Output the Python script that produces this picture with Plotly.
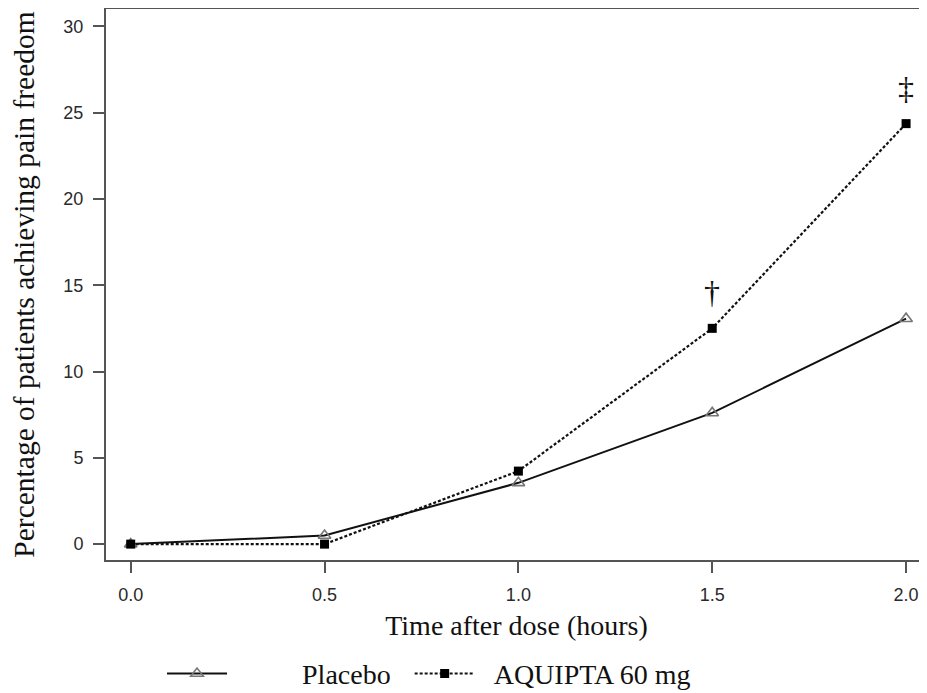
import plotly.graph_objects as go

time_hours = [0.0, 0.5, 1.0, 1.5, 2.0]
placebo = [0.0, 0.5, 3.55, 7.6, 13.06]
aquipta = [0.0, 0.0, 4.23, 12.5, 24.36]
x_ticks = [0.0, 0.5, 1.0, 1.5, 2.0]
y_ticks = [0, 5, 10, 15, 20, 25, 30]
sig_x = [1.5, 2.0]
sig_y = [14.6, 26.4]
sig_labels = ["†", "‡"]

NB = "\u00a0"

fig = go.Figure()
fig.add_trace(go.Scatter(
    x=time_hours, y=placebo, mode="lines+markers",
    name=NB * 10 + "Placebo" + NB * 2,
    line=dict(color="#111111", width=2),
    marker=dict(symbol="triangle-up-open", size=11, color="#777777", line=dict(width=1.6, color="#777777")),
))
fig.add_trace(go.Scatter(
    x=time_hours, y=aquipta, mode="lines+markers",
    name=NB * 2 + "AQUIPTA 60 mg",
    line=dict(color="#111111", width=2.2, dash="3px,2px"),
    marker=dict(symbol="square", size=9, color="#000000"),
))

for xv, yv, t in zip(sig_x, sig_y, sig_labels):
    fig.add_annotation(x=xv, y=yv, text=t, showarrow=False,
                       font=dict(family="Liberation Serif", size=32, color="#111111"))

axis_common = dict(
    showline=True, linecolor="#555555", linewidth=2,
    ticks="outside", ticklen=11, tickwidth=2, tickcolor="#555555",
    showgrid=False, zeroline=False,
    tickfont=dict(family="Liberation Sans", size=18, color="#2a2a2a"),
    ticklabelstandoff=6,
)

fig.update_xaxes(
    range=[-0.0637, 2.054], tickvals=x_ticks, tickformat=".1f", mirror=True,
    title=dict(text="Time after dose (hours)", standoff=12,
               font=dict(family="Liberation Serif", size=28, color="#111111")),
    **axis_common,
)
fig.update_yaxes(
    range=[-0.92, 31.0], tickvals=y_ticks,
    title=dict(text="Percentage of patients achieving pain freedom", standoff=22,
               font=dict(family="Liberation Serif", size=29.5, color="#111111")),
    **axis_common,
)

fig.update_layout(
    width=919, height=685,
    margin=dict(l=98, r=0, t=1, b=133),
    plot_bgcolor="white", paper_bgcolor="white",
    showlegend=True,
    legend=dict(orientation="h", xref="container", yref="container",
                x=0.1676, y=0.028, xanchor="left", yanchor="middle",
                font=dict(family="Liberation Serif", size=28, color="#111111"),
                itemwidth=60),
)

fig.write_html("out.html")
